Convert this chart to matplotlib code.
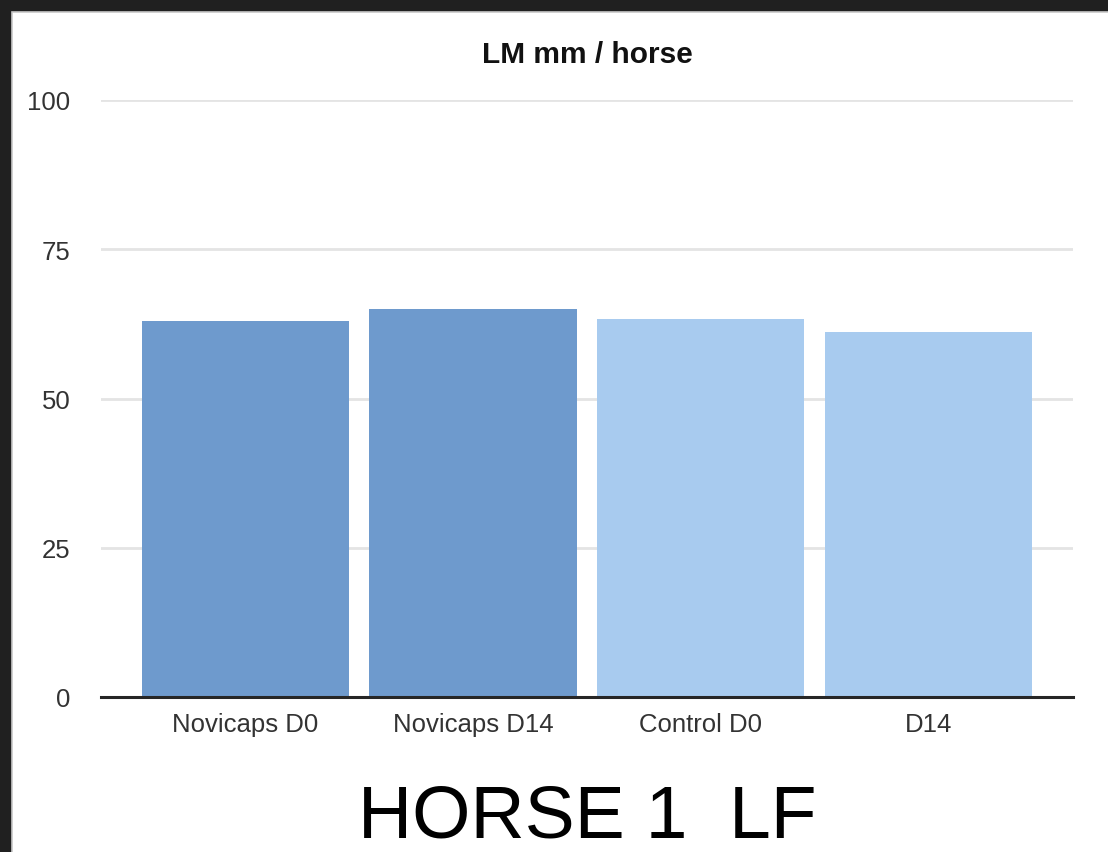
import matplotlib.pyplot as plt
from matplotlib.patches import Rectangle

# bar data
categories = ["Novicaps D0", "Novicaps D14", "Control D0", "D14"]
values = [63.0, 65.0, 63.3, 61.2]
bar_colors = ["#6e9acd", "#6e9acd", "#a8cbef", "#a8cbef"]
y_ticks = [0, 25, 50, 75, 100]

plt.rcParams["font.family"] = ["Liberation Sans", "DejaVu Sans"]

W, H = 1108, 853
fig = plt.figure(figsize=(W / 100, H / 100), dpi=100)
fig.patch.set_facecolor("#202020")

# white page inside the dark screenshot frame (open to the right and bottom)
fig.add_artist(Rectangle((12 / W, -0.05), 1.1, 1.05 - 13 / H, transform=fig.transFigure,
                         facecolor="white", edgecolor="#c8c8c8", linewidth=1.2, zorder=0))

ax = fig.add_axes([101 / W, (H - 698) / H, (1073 - 101) / W, (698 - 101) / H])
ax.set_facecolor("none")

x = list(range(len(categories)))
ax.bar(x, values, width=0.91, color=bar_colors, zorder=2)

ax.set_xlim(-0.635, 3.637)
ax.set_ylim(0, 100)
ax.set_yticks(y_ticks)
ax.set_yticklabels([str(t) for t in y_ticks])
ax.set_xticks(x)
ax.set_xticklabels(categories)

for t in y_ticks[1:]:
    ax.axhline(t, color="#e4e4e4", linewidth=2, zorder=1)
ax.axhline(0, color="#262626", linewidth=2.2, zorder=3, clip_on=False)

for s in ax.spines.values():
    s.set_visible(False)
ax.tick_params(axis="both", length=0, labelsize=18.5, colors="#333333")
ax.tick_params(axis="y", pad=22)
ax.tick_params(axis="x", pad=11)

ax.set_title("LM mm / horse", fontsize=21.5, fontweight="bold", pad=27, color="#111111")

fig.text(587 / W, (H - 838) / H, "HORSE 1  LF", fontsize=54, ha="center", va="baseline",
         color="black")

fig.savefig("out.png", dpi=100, facecolor=fig.get_facecolor())
